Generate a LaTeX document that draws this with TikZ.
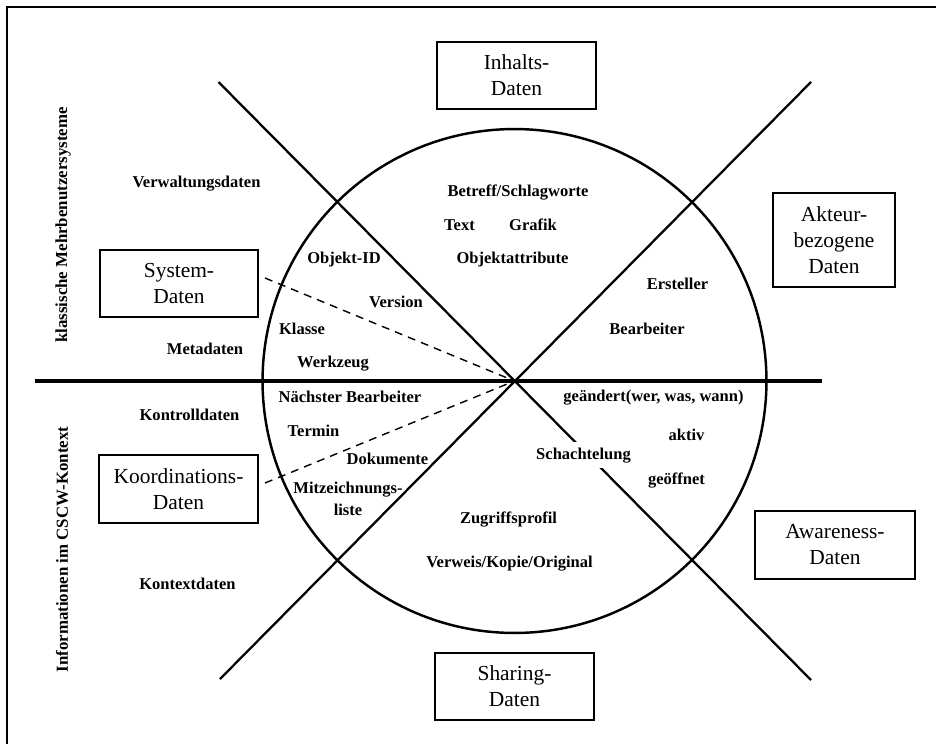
\documentclass[tikz,border=0pt]{standalone}
\usepackage{fontspec}
\setmainfont{Liberation Serif}
\usetikzlibrary{positioning}

\begin{document}
\begin{tikzpicture}[x=0.02cm,y=-0.02cm,
    databox/.style={draw,line width=1.1pt,align=center,inner sep=0pt,
      font=\fontsize{12.2}{14.8}\selectfont},
    item/.style={font=\fontsize{9.4}{12.4}\selectfont\bfseries,inner sep=1pt,anchor=base},
    side/.style={font=\fontsize{9.6}{12}\selectfont\bfseries,rotate=90,inner sep=0pt},
    dashline/.style={line width=0.8pt,dash pattern=on 4.5pt off 3.5pt}]
  \useasboundingbox (0,0) rectangle (936,744);
  % frame (right and bottom edge outside the page)
  \coordinate (fbl) at (7,744); \coordinate (ftl) at (7,7); \coordinate (ftr) at (936,7);
  \draw[line width=1.1pt] (fbl) -- (ftl) -- (ftr);
  % circle and axes
  \coordinate (c) at (514.5,381); \coordinate (hl) at (35,381); \coordinate (hr) at (822,381);
  \coordinate (dtl) at (218.5,82); \coordinate (dbr) at (811,680);
  \coordinate (dtr) at (811,82); \coordinate (dbl) at (220,679);
  \draw[line width=1.4pt] (c) circle[radius=5.04cm];
  \path[line width=1.3pt] (dtl) edge (dbr) (dtr) edge (dbl);
  \draw[line width=2pt] (hl) -- (hr);
  % side labels
  \node[side] (klass) at (63,225) {klassische Mehrbenutzersysteme};
  \node[side] (info) at (62,549.5) {Informationen im CSCW-Kontext};
  % data boxes
  \node[databox,minimum width=3.18cm,minimum height=1.34cm] (inhalt) at (516.5,75.5) {Inhalts-\\Daten};
  \node[databox,minimum width=3.16cm,minimum height=1.34cm] (system) at (179,283.5) {System-\\Daten};
  \node[databox,minimum width=2.44cm,minimum height=1.88cm] (akteur) at (834,240) {Akteur-\\bezogene\\Daten};
  \node[databox,minimum width=3.18cm,minimum height=1.36cm] (koord) at (178.5,489) {Koordinations-\\Daten};
  \node[databox,minimum width=3.2cm,minimum height=1.36cm] (aware) at (835,545) {Awareness-\\Daten};
  \node[databox,minimum width=3.18cm,minimum height=1.34cm] (sharing) at (514.5,686.5) {Sharing-\\Daten};
  % dashed pointers
  \coordinate (sysd) at (265,278); \coordinate (kood) at (265,483);
  \draw[dashline] (sysd) -- (c); \draw[dashline] (kood) -- (c);
  % upper half
  \node[item] (verw) at (196.5,187) {Verwaltungsdaten}; \node[item] (meta) at (205,354) {Metadaten};
  \node[item] (objid) at (344,263) {Objekt-ID}; \node[item] (version) at (396,307) {Version};
  \node[item] (klasse) at (302,334) {Klasse}; \node[item] (werkz) at (333,367) {Werkzeug};
  \node[item] (betreff) at (518,196) {Betreff/Schlagworte}; \node[item] (text) at (459.5,230) {Text};
  \node[item] (grafik) at (533,230) {Grafik}; \node[item] (objattr) at (512.5,263) {Objektattribute};
  \node[item] (erst) at (677.5,289) {Ersteller}; \node[item] (bearb) at (647,334) {Bearbeiter};
  % lower half
  \node[item] (naechst) at (350,402) {Nächster Bearbeiter}; \node[item] (kontroll) at (189.5,420) {Kontrolldaten};
  \node[item] (termin) at (313.5,436) {Termin}; \node[item] (dokum) at (387.5,464) {Dokumente};
  \node[item,anchor=center,align=center] (mitz) at (348,499) {Mitzeichnungs-\\liste};
  \node[item] (kontext) at (187.5,589) {Kontextdaten};
  \node[item] (zugriff) at (508.5,523) {Zugriffsprofil}; \node[item] (verweis) at (509.5,567) {Verweis/Kopie/Original};
  \node[item] (geaend) at (653.5,401) {geändert(wer, was, wann)}; \node[item] (aktiv) at (686.5,440) {aktiv};
  \node[item,fill=white,inner sep=3pt] (schacht) at (583.5,459) {Schachtelung};
  \node[item] (geoeff) at (676.5,484) {geöffnet};
\end{tikzpicture}
\end{document}
